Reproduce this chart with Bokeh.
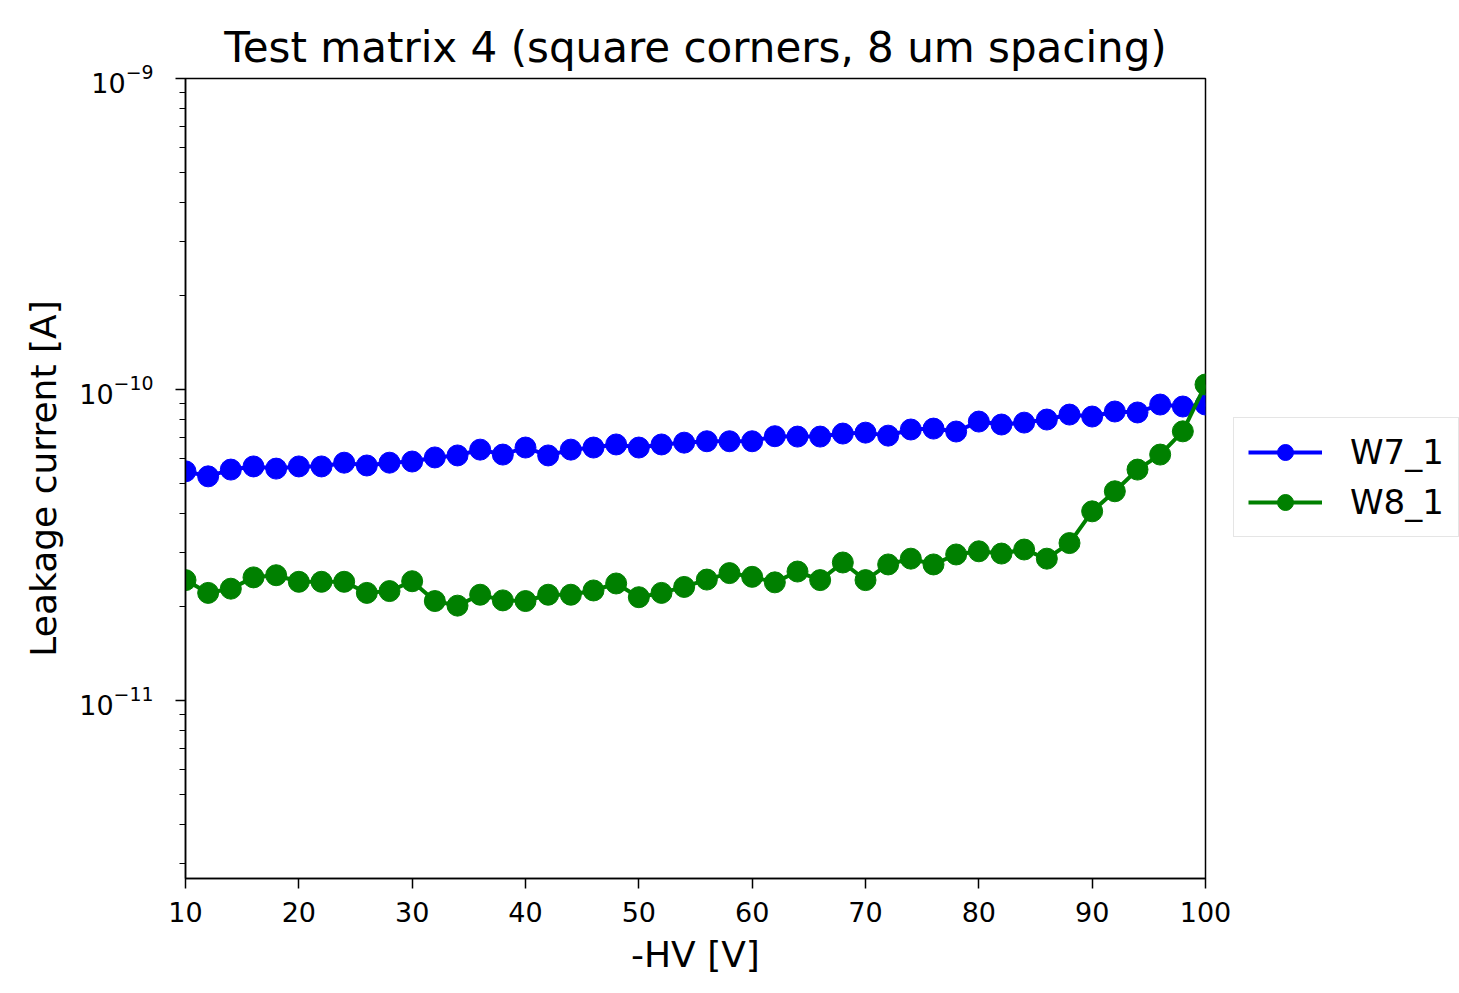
from bokeh.plotting import figure
from bokeh.models import Range1d, FixedTicker, Legend, LegendItem
from bokeh.embed import file_html
from bokeh.resources import INLINE

voltage = list(range(10, 101, 2))

w7_1 = [5.46e-11, 5.26e-11, 5.53e-11, 5.66e-11, 5.57e-11, 5.66e-11, 5.66e-11, 5.82e-11,
        5.70e-11, 5.82e-11, 5.87e-11, 6.05e-11, 6.14e-11, 6.41e-11, 6.18e-11, 6.51e-11,
        6.14e-11, 6.41e-11, 6.51e-11, 6.66e-11, 6.51e-11, 6.66e-11, 6.75e-11, 6.82e-11,
        6.82e-11, 6.82e-11, 7.08e-11, 7.06e-11, 7.06e-11, 7.22e-11, 7.27e-11, 7.11e-11,
        7.44e-11, 7.49e-11, 7.33e-11, 7.89e-11, 7.72e-11, 7.83e-11, 8.01e-11, 8.31e-11,
        8.19e-11, 8.50e-11, 8.44e-11, 8.95e-11, 8.82e-11, 8.95e-11]

w8_1 = [2.44e-11, 2.22e-11, 2.29e-11, 2.49e-11, 2.53e-11, 2.41e-11, 2.41e-11, 2.41e-11,
        2.22e-11, 2.25e-11, 2.42e-11, 2.09e-11, 2.02e-11, 2.19e-11, 2.10e-11, 2.09e-11,
        2.19e-11, 2.19e-11, 2.26e-11, 2.38e-11, 2.15e-11, 2.22e-11, 2.32e-11, 2.45e-11,
        2.57e-11, 2.50e-11, 2.40e-11, 2.60e-11, 2.44e-11, 2.78e-11, 2.44e-11, 2.74e-11,
        2.86e-11, 2.74e-11, 2.95e-11, 3.02e-11, 2.97e-11, 3.06e-11, 2.86e-11, 3.21e-11,
        4.06e-11, 4.71e-11, 5.53e-11, 6.18e-11, 7.34e-11, 1.038e-10]

x_ticks = [10, 20, 30, 40, 50, 60, 70, 80, 90, 100]
title_text = "Test matrix 4 (square corners, 8 um spacing)"
x_label = "-HV [V]"
y_label = "Leakage current [A]"

FONT = "DejaVu Sans"

p = figure(frame_width=1020, frame_height=800, y_axis_type="log",
           x_range=Range1d(10, 100), y_range=Range1d(2.68e-12, 1e-9),
           output_backend="svg", toolbar_location=None,
           min_border_left=185, min_border_right=0, min_border_top=78,
           min_border_bottom=115, background_fill_color="white",
           border_fill_color="white")

p.title.text = title_text
p.title.text_font = FONT
p.title.text_font_size = "42px"
p.title.text_font_style = "normal"
p.title.align = "center"
p.title.text_color = "black"
p.title.standoff = 13

p.grid.visible = False
p.outline_line_color = "black"
p.outline_line_width = 1.5

for ax in (p.xaxis[0], p.yaxis[0]):
    ax.axis_label_text_font = FONT
    ax.axis_label_text_font_size = "36px"
    ax.axis_label_text_font_style = "normal"
    ax.axis_label_text_color = "black"
    ax.major_label_text_font = FONT
    ax.major_label_text_font_size = "27px"
    ax.major_label_text_color = "black"
    ax.axis_line_color = "black"
    ax.axis_line_width = 1.5
    ax.major_tick_in = 0
    ax.major_tick_out = 10
    ax.major_tick_line_width = 1.5
    ax.minor_tick_in = 0
    ax.minor_tick_out = 6
    ax.minor_tick_line_width = 1.2

p.xaxis.axis_label = x_label
p.yaxis.axis_label = y_label
p.xaxis.ticker = FixedTicker(ticks=x_ticks)
p.xaxis.minor_tick_line_color = None
p.xaxis.major_label_standoff = 13
p.xaxis.axis_label_standoff = 9
p.yaxis.major_label_standoff = 22
p.yaxis.axis_label_standoff = 12

l1 = p.line(voltage, w7_1, line_color="#0000ff", line_width=4)
s1 = p.scatter(voltage, w7_1, marker="circle", size=21, fill_color="#0000ff", line_color="#0000ff")
l2 = p.line(voltage, w8_1, line_color="#008000", line_width=4)
s2 = p.scatter(voltage, w8_1, marker="circle", size=21, fill_color="#008000", line_color="#008000")

legend = Legend(items=[LegendItem(label="W7_1", renderers=[l1, s1]),
                       LegendItem(label="W8_1", renderers=[l2, s2])],
                location=(28, 341), orientation="vertical")
legend.label_text_font = FONT
legend.label_text_font_size = "34px"
legend.label_text_color = "black"
legend.border_line_color = "#cccccc"
legend.border_line_width = 1.5
legend.background_fill_color = "white"
legend.glyph_width = 74
legend.glyph_height = 40
legend.spacing = 10
legend.padding = 14
legend.margin = 0
legend.label_standoff = 28
p.add_layout(legend, "right")

open("out.html", "w").write(file_html(p, INLINE))
